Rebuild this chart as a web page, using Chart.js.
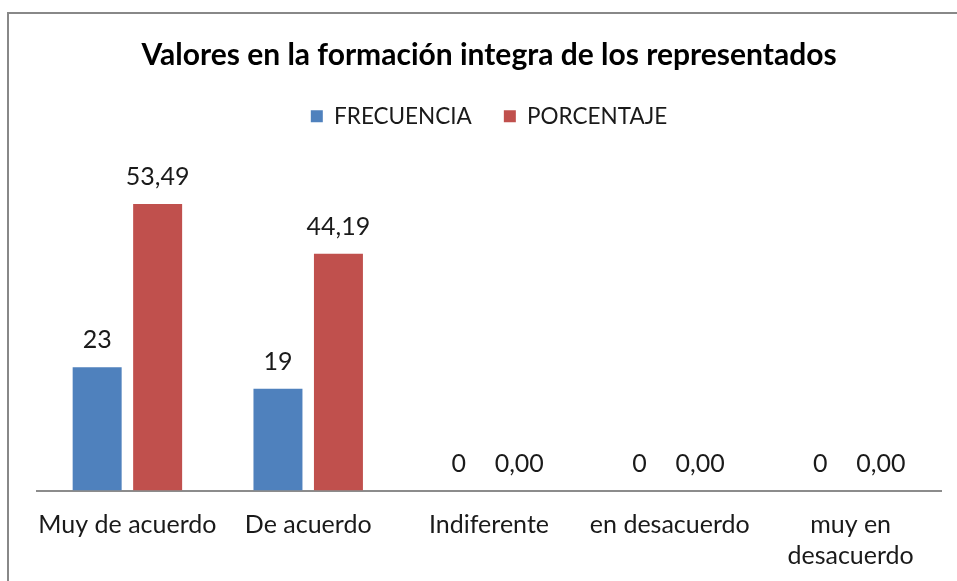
<!DOCTYPE html>
<html>
<head>
<meta charset="utf-8">
<script src="https://cdn.jsdelivr.net/npm/chart.js@4"></script>
<style>
  html, body { margin: 0; padding: 0; background: #fff; }
  body { width: 957px; height: 581px; position: relative; overflow: hidden; }
  #wrap { position: absolute; left: 0; top: 0; width: 957px; height: 601px; }
  #frame { position: absolute; left: 7px; top: 12px; width: 970px; height: 600px;
           border-left: 2px solid #888; border-top: 2px solid #888; pointer-events: none; }
</style>
</head>
<body>
<div id="wrap"><canvas id="c" width="957" height="601"></canvas></div>
<div id="frame"></div>
<script>
const categories = ['Muy de acuerdo', 'De acuerdo', 'Indiferente', 'en desacuerdo', ['muy en', 'desacuerdo']];
const frecuencia = [23, 19, 0, 0, 0];
const porcentaje = [53.49, 44.19, 0, 0, 0];
const seriesNames = ['FRECUENCIA', 'PORCENTAJE'];
const titleText = 'Valores en la formación integra de los representados';

const FONT = 'Lato, "Open Sans", sans-serif';

const valueLabels = {
  id: 'valueLabels',
  afterDatasetsDraw(chart) {
    const ctx = chart.ctx;
    ctx.save();
    ctx.font = '25px ' + FONT;
    ctx.fillStyle = '#1a1a1a';
    ctx.textAlign = 'center';
    ctx.textBaseline = 'middle';
    chart.data.datasets.forEach((ds, i) => {
      const meta = chart.getDatasetMeta(i);
      meta.data.forEach((el, j) => {
        const v = ds.data[j];
        const txt = i === 0 ? String(v) : v.toFixed(2).replace('.', ',');
        ctx.fillText(txt, el.x, el.y - 27);
      });
    });
    ctx.restore();
  }
};

const legendGap = {
  id: 'legendGap',
  beforeInit(chart) {
    const origFit = chart.legend.fit;
    chart.legend.fit = function () {
      origFit.bind(chart.legend)();
      this.height += 31.5;
    };
  }
};

new Chart(document.getElementById('c'), {
  type: 'bar',
  data: {
    labels: categories,
    datasets: [
      { label: seriesNames[0], data: frecuencia, backgroundColor: '#4F81BD' },
      { label: seriesNames[1], data: porcentaje, backgroundColor: '#C0504D' }
    ]
  },
  options: {
    responsive: false,
    animation: false,
    devicePixelRatio: 1,
    layout: { padding: { left: 37, right: 16, top: 30, bottom: 10 } },
    datasets: { bar: { categoryPercentage: 0.669, barPercentage: 0.81 } },
    plugins: {
      title: {
        display: true, text: titleText, color: '#000',
        font: { family: FONT, size: 30, weight: 'bold' },
        padding: { top: 7, bottom: 0 }
      },
      legend: {
        display: true, position: 'top',
        labels: { color: '#1a1a1a', font: { family: FONT, size: 22.5 }, boxWidth: 12, boxHeight: 12, padding: 32 }
      },
      tooltip: { enabled: false }
    },
    scales: {
      x: {
        grid: { display: false, drawTicks: false },
        border: { display: true, color: '#8c8c8c', width: 2 },
        ticks: { color: '#1a1a1a', font: { family: FONT, size: 25, lineHeight: 1.25 }, padding: 19, maxRotation: 0, autoSkip: false }
      },
      y: {
        display: false, min: 0, max: 60
      }
    }
  },
  plugins: [valueLabels, legendGap]
});
</script>
</body>
</html>
